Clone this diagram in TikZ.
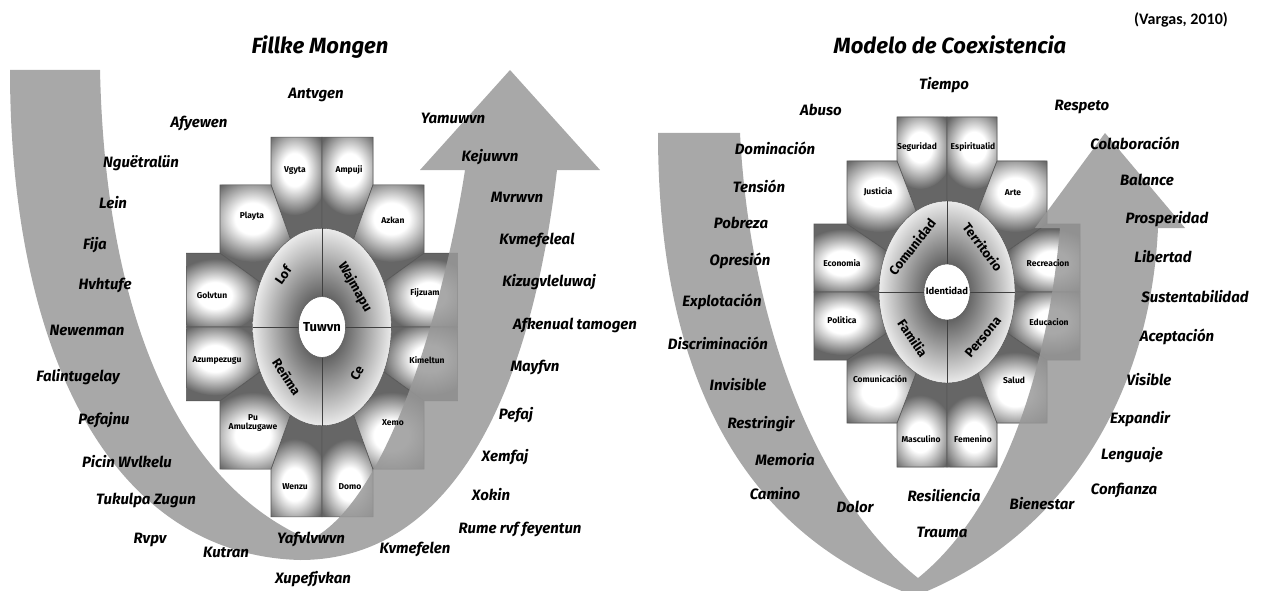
\documentclass[tikz,border=0pt]{standalone}
\usepackage{fontspec}
\setmainfont{Fira Sans}
\newfontfamily\citefont{Carlito}
\usepackage{tikz}

\pgfdeclareradialshading{glow}{\pgfpoint{0bp}{0bp}}{color(0bp)=(white); color(9bp)=(white); color(25bp)=(black!60); color(50bp)=(black!60)}

\tikzset{
  word/.style={font=\fontsize{15}{15}\selectfont\bfseries\itshape},
  heading/.style={font=\fontsize{22}{22}\selectfont\bfseries\itshape},
  tiletext/.style={font=\fontsize{8.5}{9}\selectfont\bfseries, align=center, inner sep=0pt},
  ringtext/.style={font=\fontsize{13}{13}\selectfont\bfseries, inner sep=0pt},
  band/.style={fill=black!40, fill opacity=0.85},
  tileline/.style={draw=black!65, line width=0.6pt},
}

\begin{document}
\begin{tikzpicture}[x=1pt, y=-1pt]
\useasboundingbox (0,0) rectangle (1261,591);

% Wheels (left one a bit taller)
\foreach \cx/\cy/\sx/\sy in {322/327/1.02/1.085, 947/292/1/1} {
  \begin{scope}[shift={(\cx,\cy)}, xscale=\sx, yscale=\sy]
    % tiles, three per quarter
    \foreach \qx/\qy in {1/1, -1/1, 1/-1, -1/-1} {
      \begin{scope}[xscale=\qx, yscale=\qy]
        \foreach \ax/\ay/\bx/\by/\gx/\gy/\rx/\ry in {0/-175/-50/-131/-27/-145/34/42, -50/-131/-100/-68/-68/-100/48/40, -100/-68/-133/0/-105/-29/46/34} {
          \fill[black!60] (0,0) -- (\ax,\ay) -- (\bx,\ay) -- (\bx,\by) -- cycle;
          \begin{scope}
            \clip (0,0) -- (\ax,\ay) -- (\bx,\ay) -- (\bx,\by) -- cycle;
            \shade[shading=glow] (\gx,\gy) ellipse [x radius=\rx, y radius=\ry];
          \end{scope}
          \draw[tileline] (0,0) -- (\ax,\ay) -- (\bx,\ay) -- (\bx,\by) -- cycle;
        }
      \end{scope}
    }
    % ring
    \shade[inner color=black!85, outer color=black!8, draw=black!70] (0,0) ellipse [x radius=68, y radius=91];
    \draw[black!75] (0,-91) -- (0,91) (-68,0) -- (68,0);
    % core
    \draw[fill=white, draw=black!70] (0,0) ellipse [x radius=23, y radius=28];
  \end{scope}
}

% Fillke Mongen band
\fill[band] (10,70) -- (100,70) .. controls (105,300) and (170,480) .. (310,540)
  .. controls (390,500) and (445,300) .. (465,170) -- (420,170) -- (510,70) -- (600,170) -- (557,170)
  .. controls (530,400) and (450,560) .. (300,560) .. controls (110,555) and (10,350) .. (10,70) -- cycle;

% Coexistencia band
\fill[band] (658,133) -- (740,133) .. controls (750,330) and (820,500) .. (918,578)
  .. controls (990,520) and (1045,400) .. (1060,228) -- (1035,228) -- (1105,133) -- (1185,228) -- (1158,228)
  .. controls (1150,400) and (1060,540) .. (915,596) .. controls (760,540) and (658,400) .. (658,133) -- cycle;

% Titles
\node[heading] (fmtitle) at (320,47) {Fillke Mongen};
\node[heading] (mctitle) at (950,45) {Modelo de Coexistencia};
\node[font=\citefont\bfseries\fontsize{16}{16}\selectfont] (cite) at (1181,20) {(Vargas, 2010)};

% Tile labels
\foreach \txt/\x/\y [count=\i] in {Vgyta/295/170, Ampuji/349/170, Playta/252/216, Azkan/393/220, Golvtun/212/295, Fijzuam/425/293, Azumpezugu/217/360, Kimeltun/427/360, Pu\\Amulzugawe/253/423, Xemo/393/423, Wenzu/295/487, Domo/350/487}
  \node[tiletext] (fmtile\i) at (\x,\y) {\txt};
\foreach \txt/\x/\y [count=\i] in {Seguridad/917/147, Espiritualid/973/147, Justicia/878/192, Arte/1013/193, Economia/842/263, Recreacion/1048/263, Politica/842/320, Educacion/1049/322, Comunicación/880/379, Salud/1014/380, Masculino/921/439, Femenino/973/439}
  \node[tiletext] (mctile\i) at (\x,\y) {\txt};

% Ring labels
\foreach \txt/\x/\y/\a [count=\i] in {Lof/283/275/55, Wajmapu/355/287/-60, Reñma/287/377/-57, Ce/357/373/60, Comunidad/912/247/52, Territorio/983/247/-53, Familia/913/338/-56, Persona/983/337/50}
  \node[ringtext, rotate=\a] (ring\i) at (\x,\y) {\txt};
\node[ringtext] (tuwvn) at (322,327) {Tuwvn};
\node[ringtext, font=\fontsize{9.5}{10}\selectfont\bfseries] (identidad) at (947,291) {Identidad};

% Words round Fillke Mongen
\foreach \txt/\x/\y [count=\i] in {Antvgen/316/95, Afyewen/199/123, Nguëtralün/141/163, Lein/113/203, Fija/95/245, Hvhtufe/105/285, Newenman/87/330, Falintugelay/78/377, Pefajnu/104/420, Picin Wvlkelu/127/462, Tukulpa Zugun/146/500, Rvpv/150/540, Kutran/226/552, Yafvlvwvn/311/539, Xupefjvkan/313/579, Kvmefelen/415/549, Rume rvf feyentun/520/529, Xokin/491/495, Xemfaj/505/457, Pefaj/516/415, Mayfvn/535/367, Afkenual tamogen/575/325, Kizugvleluwaj/549/282, Kvmefeleal/537/240, Mvrwvn/517/197, Kejuwvn/490/157, Yamuwvn/453/118}
  \node[word] (fmword\i) at (\x,\y) {\txt};

% Words round Modelo de Coexistencia
\foreach \txt/\x/\y [count=\i] in {Tiempo/944/85, Abuso/821/110, Respeto/1082/107, Dominación/775/148, Colaboración/1135/143, Tensión/759/186, Balance/1147/180, Pobreza/741/223, Prosperidad/1167/219, Opresión/740/261, Libertad/1163/257, Explotación/722/302, Sustentabilidad/1195/297, Discriminación/718/343, Aceptación/1177/337, Invisible/738/385, Visible/1149/380, Restringir/761/424, Expandir/1140/419, Memoria/785/460, Lenguaje/1132/455, Camino/775/494, Confianza/1124/490, Dolor/855/507, Resiliencia/944/496, Trauma/942/532, Bienestar/1042/504}
  \node[word] (mcword\i) at (\x,\y) {\txt};
\end{tikzpicture}
\end{document}
